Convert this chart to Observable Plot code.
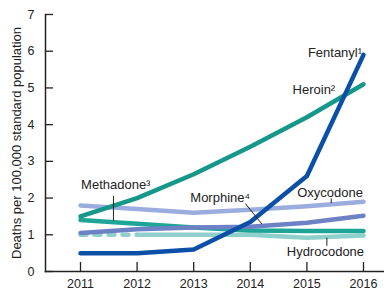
<!DOCTYPE html>
<html>
<head>
<meta charset="utf-8">
<script src="https://cdn.jsdelivr.net/npm/d3@7"></script>
<script src="https://cdn.jsdelivr.net/npm/@observablehq/plot@0.6"></script>
<style>
  html, body { margin: 0; padding: 0; background: #fff; }
  #chart { width: 384px; height: 291px; }
</style>
</head>
<body>
<div id="chart"></div>
<script>
const years = [2011, 2012, 2013, 2014, 2015, 2016];
const yTicks = [0, 1, 2, 3, 4, 5, 6, 7];

const fentanyl    = [0.5, 0.5, 0.6, 1.35, 2.6, 5.9];
const heroin      = [1.5, 2.0, 2.65, 3.4, 4.2, 5.1];
const methadone   = [1.4, 1.3, 1.2, 1.12, 1.1, 1.1];
const oxycodone   = [1.8, 1.7, 1.6, 1.68, 1.78, 1.9];
const morphine    = [1.05, 1.15, 1.2, 1.22, 1.33, 1.52];
const hydrocodone = [1.0, 1.0, 1.0, 1.0, 0.92, 0.98];

const seriesNames  = ["Hydrocodone", "Methadone", "Morphine", "Oxycodone", "Heroin", "Fentanyl"];
const seriesValues = [hydrocodone, methadone, morphine, oxycodone, heroin, fentanyl];
const seriesColors = ["#8fd0cc", "#1ea597", "#6d81c5", "#9badde", "#15978a", "#0b4fa6"];

const labelTexts   = ["Fentanyl¹", "Heroin²", "Methadone³", "Morphine⁴", "Oxycodone", "Hydrocodone"];
const labelYears   = [2015.975, 2015.5, 2011.01, 2012.94, 2015.99, 2016.01];
const labelValues  = [5.85, 4.84, 2.24, 1.88, 2.04, 0.42];
const labelAnchors = ["end", "end", "start", "start", "end", "end"];

const leaderX1 = [2011.582, 2013.912, 2015.43, 2015.353];
const leaderY1 = [2.06, 1.85, 1.99, 0.92];
const leaderX2 = [2011.582, 2014.206, 2015.43, 2015.353];
const leaderY2 = [1.38, 1.29, 1.86, 0.70];

const yLabel = "Deaths per 100,000 standard population";

// table for the lines
const rows = [];
seriesNames.forEach((name, i) => {
  years.forEach((yr, j) => rows.push({series: name, year: yr, value: seriesValues[i][j]}));
});
// hydrocodone 2011–2012 is dashed
const hydroDashed = rows.filter(d => d.series === "Hydrocodone" && d.year <= 2012);
const solidRows = rows.filter(d => !(d.series === "Hydrocodone" && d.year < 2012));

const labels = labelTexts.map((t, i) => ({text: t, year: labelYears[i], value: labelValues[i], anchor: labelAnchors[i]}));
const leaders = leaderX1.map((x, i) => ({x1: x, y1: leaderY1[i], x2: leaderX2[i], y2: leaderY2[i]}));

const ink = "#222";

const chart = Plot.plot({
  width: 384,
  height: 291,
  marginLeft: 45,
  marginRight: 0,
  marginTop: 14,
  marginBottom: 20,
  insetLeft: 35,
  insetRight: 21,
  style: {fontFamily: "'Liberation Sans', Arial, sans-serif", fontSize: "12px", color: ink, background: "#fff"},
  x: {domain: [2011, 2016]},
  y: {domain: [0, 7]},
  color: {domain: seriesNames, range: seriesColors},
  marks: [
    Plot.line(hydroDashed, {x: "year", y: "value", stroke: seriesColors[0], strokeWidth: 4.5, strokeDasharray: "6,8"}),
    Plot.line(solidRows, {x: "year", y: "value", z: "series", stroke: "series", strokeWidth: 4.5, strokeLinejoin: "round"}),
    Plot.link(leaders, {x1: "x1", y1: "y1", x2: "x2", y2: "y2", stroke: ink, strokeWidth: 1}),
    Plot.text(labels.filter(d => d.anchor === "end"), {x: "year", y: "value", text: "text", textAnchor: "end", lineAnchor: "bottom", fill: ink, fontSize: 13}),
    Plot.text(labels.filter(d => d.anchor === "start"), {x: "year", y: "value", text: "text", textAnchor: "start", lineAnchor: "bottom", fill: ink, fontSize: 13}),
    Plot.axisY({ticks: yTicks, tickSize: 0, tickPadding: 11, tickFormat: d => String(d), label: null, fontSize: 12.5}),
    Plot.axisY({ticks: yTicks, tickSize: -8, text: null, label: null, stroke: ink, strokeWidth: 1.3}),
    Plot.axisX({ticks: years, tickSize: 0, tickPadding: 8, tickFormat: d => String(d), label: null, fontSize: 12.5}),
    Plot.axisX({ticks: years, tickSize: -9, text: null, label: null, stroke: ink, strokeWidth: 1.3}),
    Plot.frame({anchor: "left", stroke: ink, strokeWidth: 1.5}),
    Plot.frame({anchor: "bottom", stroke: ink, strokeWidth: 1.5}),
    Plot.text([yLabel], {frameAnchor: "left", textAnchor: "middle", lineAnchor: "middle", dx: -28.7, rotate: -90, fontSize: 13, fill: ink})
  ]
});
document.getElementById("chart").appendChild(chart);
</script>
</body>
</html>
